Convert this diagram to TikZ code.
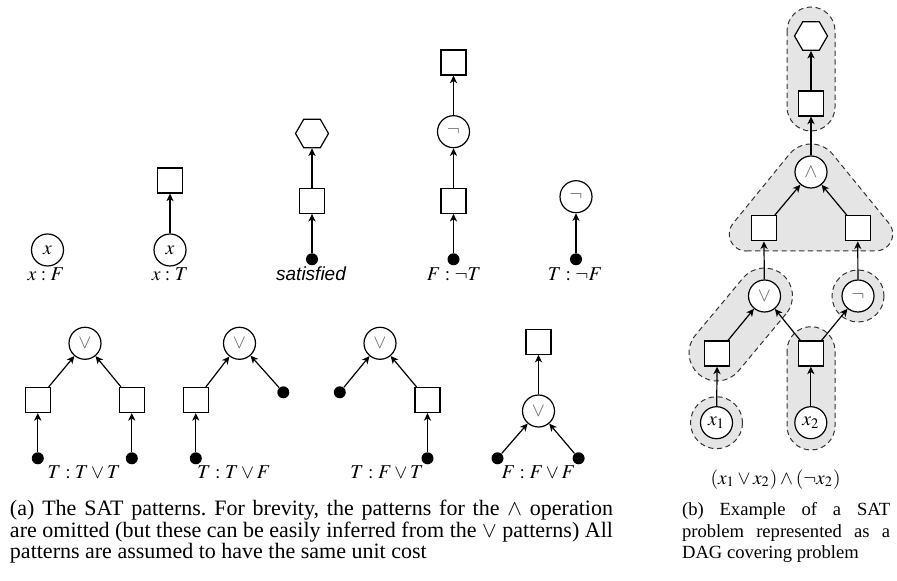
\documentclass[tikz,border=0pt]{standalone}
\usepackage{mathptmx}
\usepackage{fontspec}
\setmainfont{Liberation Serif}
\setsansfont{Liberation Sans}
\usetikzlibrary{shapes.geometric,arrows.meta}
\newcommand{\opsym}[1]{\textcolor{black!60}{$#1$}}
\frenchspacing
\begin{document}
\begin{tikzpicture}[x=0.5pt,y=-0.5pt,
  gate/.style={circle,draw,line width=0.6pt,minimum size=16pt,inner sep=0pt,fill=white,font=\fontsize{9.8}{11}\selectfont},
  reg/.style={rectangle,draw,line width=0.6pt,minimum size=12.5pt,inner sep=0pt,fill=white},
  leaf/.style={circle,fill=black,minimum size=6pt,inner sep=0pt},
  root/.style={regular polygon,regular polygon sides=6,draw,line width=0.6pt,minimum size=16.5pt,inner sep=0pt,fill=white},
  link/.style={line width=0.6pt,-{Stealth[length=3.8pt,width=3.6pt,inset=1.1pt]}},
  lbl/.style={anchor=base,inner sep=0pt,font=\fontsize{9.8}{11}\selectfont},
  cover/.style={draw=black!80,fill=black!10,line width=0.5pt,dash pattern=on 2.6pt off 1.8pt},
]
\useasboundingbox (0,0) rectangle (897,581);

% ---------------- (a) patterns, top row ----------------
% x : F
\node[gate] (xf) at (47.5,250) {$x$};
\node[lbl] (xfl) at (46,280.5) {$x:F$};

% x : T
\node[gate] (xt) at (170,250) {$x$};
\node[reg] (xtr) at (170,180.5) {};
\draw[link] (xt) -- (xtr);
\node[lbl] (xtl) at (170,280.5) {$x:T$};

% satisfied
\node[leaf] (sd) at (312,259.3) {};
\node[reg] (sr) at (312,200.8) {};
\node[root] (sh) at (312,133.5) {};
\draw[link] (sd) -- (sr);
\draw[link] (sr) -- (sh);
\node[lbl,font=\fontsize{9.5}{11}\sffamily\itshape] (sl) at (311,280.5) {satisfied};

% F : not T
\node[leaf] (nd) at (453.5,259.3) {};
\node[reg] (nr) at (453.5,200.8) {};
\node[gate] (ng) at (453.5,131.7) {\opsym{\neg}};
\node[reg] (nt) at (453.5,62.5) {};
\draw[link] (nd) -- (nr);
\draw[link] (nr) -- (ng);
\draw[link] (ng) -- (nt);
\node[lbl] (nl) at (454,280.5) {$F:\neg T$};

% T : not F
\node[leaf] (md) at (576,259.3) {};
\node[gate] (mg) at (576,196.7) {\opsym{\neg}};
\draw[link] (md) -- (mg);
\node[lbl] (ml) at (575,280.5) {$T:\neg F$};

% ---------------- (a) patterns, bottom row ----------------
% T : T or T
\node[gate] (ag) at (85,343.3) {\opsym{\vee}};
\node[reg] (ar1) at (37.8,400) {};
\node[reg] (ar2) at (131.8,400) {};
\node[leaf] (ad1) at (37.8,458.3) {};
\node[leaf] (ad2) at (131.8,458.3) {};
\draw[link] (ad1) -- (ar1);
\draw[link] (ad2) -- (ar2);
\draw[link] (ar1) -- (ag);
\draw[link] (ar2) -- (ag);
\node[lbl] (al) at (84,478) {$T:T\vee T$};

% T : T or F
\node[gate] (bg) at (239.5,343.3) {\opsym{\vee}};
\node[reg] (br) at (195.8,400) {};
\node[leaf] (bd1) at (195.8,458.3) {};
\node[leaf] (bd2) at (283.3,392.3) {};
\draw[link] (bd1) -- (br);
\draw[link] (br) -- (bg);
\draw[link] (bd2) -- (bg);
\node[lbl] (bl) at (234,478) {$T:T\vee F$};

% T : F or T
\node[gate] (cg) at (380,343.3) {\opsym{\vee}};
\node[leaf] (cd1) at (339.8,392.3) {};
\node[reg] (cr) at (427.5,400) {};
\node[leaf] (cd2) at (427.5,458.3) {};
\draw[link] (cd1) -- (cg);
\draw[link] (cd2) -- (cr);
\draw[link] (cr) -- (cg);
\node[lbl] (cl) at (387,478) {$T:F\vee T$};

% F : F or F
\node[reg] (dr) at (538.5,341.7) {};
\node[gate] (dg) at (538.5,411) {\opsym{\vee}};
\node[leaf] (dd1) at (497.5,458.3) {};
\node[leaf] (dd2) at (578.6,458.3) {};
\draw[link] (dd1) -- (dg);
\draw[link] (dd2) -- (dg);
\draw[link] (dg) -- (dr);
\node[lbl] (dl) at (538.5,478) {$F:F\vee F$};

% ---------------- (b) covered DAG ----------------
% pattern covers
\draw[cover] (787,31) -- (787,107) arc[start angle=180,end angle=0,radius=24]
  -- (835,31) arc[start angle=0,end angle=-180,radius=24] -- cycle;
\draw[cover] (746.3,251) -- (875.7,251)
  arc[start angle=90,end angle=-39.15,radius=17] -- (832.7,154.3)
  arc[start angle=-39.15,end angle=-140.85,radius=28] -- (733.1,223.3)
  arc[start angle=-140.85,end angle=-270,radius=17] -- cycle;
\draw[cover] (786.0,313.9) -- (738.5,370.9)
  arc[start angle=39.8,end angle=219.8,radius=28] -- (743.0,278.1)
  arc[start angle=219.8,end angle=399.8,radius=28] -- cycle;
\draw[cover] (858,296) circle[radius=26];
\draw[cover] (716.5,422.7) circle[radius=26];
\draw[cover] (787,350.7) -- (787,426) arc[start angle=180,end angle=0,radius=24]
  -- (835,350.7) arc[start angle=0,end angle=-180,radius=24] -- cycle;

% DAG nodes
\node[root] (eh) at (811,36) {};
\node[reg] (et) at (811,103.5) {};
\node[gate] (ea) at (811,172) {\opsym{\wedge}};
\node[reg] (el) at (763.8,228.3) {};
\node[reg] (er) at (857.7,228.3) {};
\node[gate] (eo) at (764.5,296) {\opsym{\vee}};
\node[gate] (en) at (858,296) {\opsym{\neg}};
\node[reg] (es1) at (717.2,353.5) {};
\node[reg] (es2) at (810.8,353.5) {};
\node[gate] (ex1) at (716.5,422.7) {$x_1$};
\node[gate] (ex2) at (810.8,422.7) {$x_2$};

\draw[link] (ex1) -- (es1);
\draw[link] (ex2) -- (es2);
\draw[link] (es1) -- (eo);
\draw[link] (es2) -- (eo);
\draw[link] (es2) -- (en);
\draw[link] (eo) -- (el);
\draw[link] (en) -- (er);
\draw[link] (el) -- (ea);
\draw[link] (er) -- (ea);
\draw[link] (ea) -- (et);
\draw[link] (et) -- (eh);

\node[lbl,font=\fontsize{9.7}{11}\selectfont] (ef) at (775.5,484) {$(x_1\vee x_2)\wedge(\neg x_2)$};

% ---------------- captions ----------------
\node[anchor=base west,inner sep=0pt] (capa) at (9.6,515.5) {\parbox[t]{301.5pt}{\fontsize{11}{10.8}\selectfont
  \makebox[301.5pt][s]{(a) The SAT patterns. For brevity, the patterns for the $\wedge$ operation}\\
  \makebox[301.5pt][s]{are omitted (but these can be easily inferred from the $\vee$ patterns) All}\\
  patterns are assumed to have the same unit cost}};
\node[anchor=base west,inner sep=0pt] (capb) at (681.7,515.5) {\parbox[t]{104pt}{\fontsize{9.3}{10.8}\selectfont
  \makebox[104pt][s]{(b) Example of a SAT}\\
  \makebox[104pt][s]{problem represented as a}\\
  DAG covering problem}};
\end{tikzpicture}
\end{document}
